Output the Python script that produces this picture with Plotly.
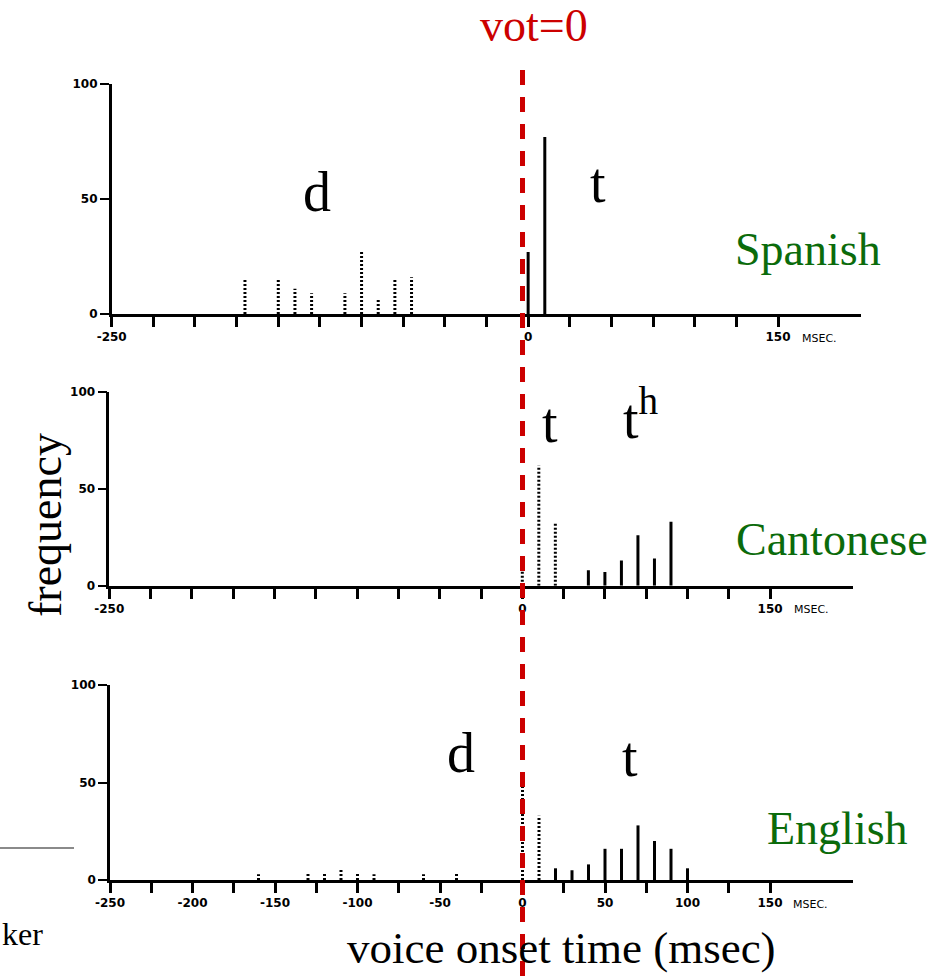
import plotly.graph_objects as go

# ---- VOT distributions (frequency, %) per language ----
# Spanish
sp_d_x = [-170, -150, -140, -130, -110, -100, -90, -80, -70]
sp_d_y = [15, 15, 11, 9, 9, 27, 7, 15, 16]
sp_t_x = [0, 10]
sp_t_y = [27, 77]

# Cantonese
ca_t_x = [0, 10, 20]
ca_t_y = [10, 62, 33]
ca_th_x = [40, 50, 60, 70, 80, 90]
ca_th_y = [8, 7, 13, 26, 14, 33]

# English
en_d_x = [-160, -130, -120, -110, -100, -90, -60, -40, 0, 10]
en_d_y = [3, 4, 4, 6, 4, 3, 3, 4, 48, 33]
en_t_x = [20, 30, 40, 50, 60, 70, 80, 90, 100]
en_t_y = [6, 5, 8, 16, 16, 28, 20, 16, 6]

# tick values / labels
x_tick_vals = list(range(-250, 151, 25))
sparse_labels = {-250: "-250", 0: "0", 150: "150"}
full_labels = {-250: "-250", -200: "-200", -150: "-150", -100: "-100",
               -50: "-50", 0: "0", 50: "50", 100: "100", 150: "150"}
y_tick_vals = [0, 50, 100]
y_tick_text = ["0", "50", "100"]

W, H = 939, 976
SERIF = "Liberation Serif, Times New Roman, serif"
TICKFONT = dict(family="DejaVu Sans", size=12, color="black", weight="bold")
GREEN = "#0b6b0b"
RED = "#cc0000"


def stems(xs, ys):
    sx, sy = [], []
    for x, y in zip(xs, ys):
        sx += [x, x, None]
        sy += [0, y, None]
    return sx, sy


def px_dom_x(left, right):
    return [left / W, right / W]


def px_dom_y(top, bottom):
    return [(H - bottom) / H, (H - top) / H]


panels = [
    dict(name="Spanish", dotted=(sp_d_x, sp_d_y), solid=(sp_t_x, sp_t_y),
         xdom=px_dom_x(111.7, 861.3), ydom=px_dom_y(84, 314), labels=sparse_labels),
    dict(name="Cantonese", dotted=(ca_t_x, ca_t_y), solid=(ca_th_x, ca_th_y),
         xdom=px_dom_x(109.3, 852.7), ydom=px_dom_y(391.7, 585.7), labels=sparse_labels),
    dict(name="English", dotted=(en_d_x, en_d_y), solid=(en_t_x, en_t_y),
         xdom=px_dom_x(110, 852.5), ydom=px_dom_y(685, 880), labels=full_labels),
]

fig = go.Figure()
layout = dict(width=W, height=H, margin=dict(l=0, r=0, t=0, b=0, autoexpand=False),
              paper_bgcolor="white", plot_bgcolor="white", showlegend=False)
annotations = []

for i, p in enumerate(panels, start=1):
    sfx = "" if i == 1 else str(i)
    xa, ya = "x" + sfx, "y" + sfx
    dx, dy = stems(*p["dotted"])
    fig.add_trace(go.Scatter(x=dx, y=dy, mode="lines", xaxis=xa, yaxis=ya,
                             line=dict(color="black", width=3, dash="2px,2px"),
                             hoverinfo="skip", cliponaxis=False))
    sx, sy = stems(*p["solid"])
    fig.add_trace(go.Scatter(x=sx, y=sy, mode="lines", xaxis=xa, yaxis=ya,
                             line=dict(color="black", width=3),
                             hoverinfo="skip", cliponaxis=False))
    layout["xaxis" + sfx] = dict(
        domain=p["xdom"], anchor=ya, range=[-250, 200], automargin=False,
        showline=True, linecolor="black", linewidth=3,
        showgrid=False, zeroline=False,
        tickmode="array", tickvals=x_tick_vals,
        ticktext=[p["labels"].get(v, "") for v in x_tick_vals],
        ticks="outside", ticklen=10, tickwidth=2.5, tickcolor="black",
        tickfont=TICKFONT, fixedrange=True)
    layout["yaxis" + sfx] = dict(
        domain=p["ydom"], anchor=xa, range=[0, 100], automargin=False,
        showline=True, linecolor="black", linewidth=2.5,
        showgrid=False, zeroline=False,
        tickmode="array", tickvals=y_tick_vals, ticktext=y_tick_text,
        ticks="outside", ticklen=9, tickwidth=2, tickcolor="black",
        tickfont=TICKFONT, fixedrange=True)
    # unit label after the 150 tick
    annotations.append(dict(text="MSEC.", xref=xa, yref=ya, x=163, y=0,
                            xanchor="left", yanchor="middle", yshift=-24,
                            showarrow=False,
                            font=dict(family="DejaVu Sans", size=11, color="black")))

# category labels inside the panels
cat_labels = [
    ("d", "x", "y", -127, 53), ("t", "x", "y", 42, 57),
    ("t", "x2", "y2", 17, 84), ("t<sup>h</sup>", "x2", "y2", 72, 88),
    ("d", "x3", "y3", -37, 65), ("t", "x3", "y3", 65, 63),
]
for txt, xr, yr, xv, yv in cat_labels:
    annotations.append(dict(text=txt, xref=xr, yref=yr, x=xv, y=yv,
                            xanchor="center", yanchor="middle", showarrow=False,
                            font=dict(family=SERIF, size=56, color="black")))

# language names
lang_labels = [("Spanish", "x", "y", 168, 28),
               ("Cantonese", "x2", "y2", 187.5, 23.6),
               ("English", "x3", "y3", 191, 26.5)]
for txt, xr, yr, xv, yv in lang_labels:
    annotations.append(dict(text=txt, xref=xr, yref=yr, x=xv, y=yv,
                            xanchor="center", yanchor="middle", showarrow=False,
                            font=dict(family=SERIF, size=46, color=GREEN)))

# figure-level titles
annotations += [
    dict(text="vot=0", xref="paper", yref="paper", x=534 / W, y=(H - 25) / H,
         xanchor="center", yanchor="middle", showarrow=False,
         font=dict(family=SERIF, size=46, color=RED)),
    dict(text="frequency", xref="paper", yref="paper", x=45 / W, y=(H - 525) / H,
         xanchor="center", yanchor="middle", textangle=-90, showarrow=False,
         font=dict(family=SERIF, size=46, color="black")),
    dict(text="voice onset time (msec)", xref="paper", yref="paper",
         x=561 / W, y=0, xanchor="center", yanchor="bottom", yshift=1,
         showarrow=False, font=dict(family=SERIF, size=45, color="black")),
    dict(text="ker", xref="paper", yref="paper", x=0, y=(H - 934) / H,
         xanchor="left", yanchor="middle", showarrow=False,
         font=dict(family=SERIF, size=32, color="black")),
]
layout["annotations"] = annotations

layout["shapes"] = [
    # vot = 0 reference line, at zero of the shared time axis
    dict(type="line", xref="x3", yref="paper", x0=0, x1=0, y0=0, y1=(H - 65) / H,
         line=dict(color=RED, width=5, dash="15px,12px"), layer="above"),
    # short grey rule at the lower left
    dict(type="line", xref="paper", yref="paper", x0=0, x1=74 / W,
         y0=(H - 848) / H, y1=(H - 848) / H,
         line=dict(color="#8a8a8a", width=2)),
]

fig.update_layout(**layout)
fig.write_html("out.html")
